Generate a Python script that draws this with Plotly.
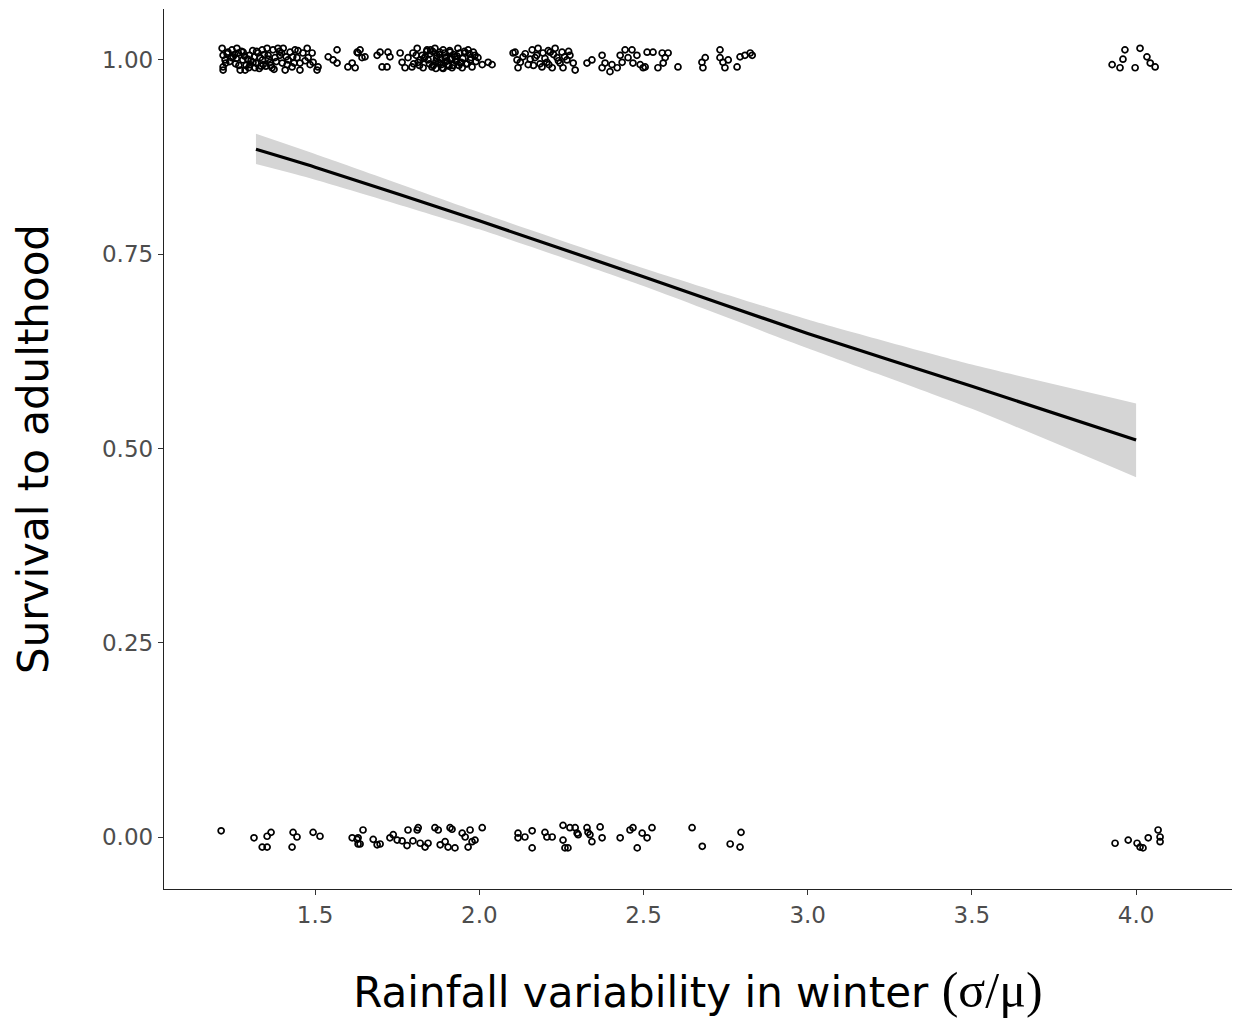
import plotly.graph_objects as go

# ---- jittered observations: survived (y ~ 1) ----
surv_x = [1.217, 1.220, 1.226, 1.220, 1.220, 1.235, 1.247, 1.250, 1.262, 1.266, 1.281, 1.272, 1.287,
          1.302, 1.311, 1.317, 1.326, 1.333, 1.339, 1.342, 1.354, 1.357, 1.363, 1.369, 1.372, 1.378,
          1.387, 1.393, 1.400, 1.403, 1.409, 1.418, 1.424, 1.430, 1.439, 1.445, 1.454, 1.454, 1.463,
          1.476, 1.479, 1.485, 1.491, 1.494, 1.506, 1.509, 1.540, 1.555, 1.567, 1.567, 1.600, 1.613,
          1.622, 1.628,
          1.280, 1.300, 1.320, 1.290, 1.310, 1.260, 1.340, 1.350, 1.240, 1.255, 1.295, 1.330,
          1.228, 1.245, 1.268, 1.285, 1.305, 1.322, 1.345, 1.365, 1.382, 1.398, 1.415, 1.432, 1.448,
          1.232, 1.258, 1.276, 1.298, 1.315, 1.336, 1.358, 1.375, 1.392, 1.412, 1.436, 1.470,
          1.637, 1.643, 1.631, 1.652, 1.689, 1.698, 1.704, 1.719, 1.722, 1.728, 1.759, 1.765, 1.774,
          1.783, 1.795, 1.798, 1.811, 1.814, 1.826, 1.829, 1.841, 1.844, 1.856, 1.865, 1.871, 1.875,
          1.887, 1.890, 1.896, 1.905, 1.911, 1.917, 1.926, 1.935, 1.942, 1.948, 1.957, 1.966, 1.972,
          1.978, 1.987, 1.996, 2.009, 2.027, 2.039, 2.103,
          1.820, 1.850, 1.880, 1.900, 1.930, 1.860, 1.910, 1.950, 1.840, 1.890, 1.970, 1.800, 1.870,
          1.920, 1.940, 1.990, 1.835, 1.915, 1.960, 1.880,
          1.808, 1.818, 1.832, 1.848, 1.858, 1.868, 1.878, 1.885, 1.895, 1.902, 1.908, 1.922, 1.928,
          1.938, 1.945, 1.955, 1.963, 1.975, 1.982, 1.852, 1.898, 1.932, 1.868, 1.912,
          2.109, 2.115, 2.118, 2.133, 2.149, 2.161, 2.170, 2.179, 2.191, 2.194, 2.206, 2.216, 2.222,
          2.231, 2.237, 2.246, 2.252, 2.255, 2.267, 2.276, 2.286, 2.292, 2.328, 2.343, 2.374, 2.374,
          2.383, 2.398, 2.404, 2.420, 2.429, 2.435, 2.444, 2.453, 2.465, 2.468, 2.480, 2.490, 2.499,
          2.505, 2.511, 2.529, 2.544, 2.557, 2.566, 2.560, 2.575, 2.605,
          2.125, 2.140, 2.155, 2.175, 2.185, 2.200, 2.212, 2.226, 2.241, 2.260, 2.272, 2.165, 2.210,
          2.678, 2.681, 2.688, 2.733, 2.733, 2.742, 2.748, 2.758, 2.785, 2.794, 2.809, 2.825, 2.831,
          3.927, 3.951, 3.960, 3.966, 3.997, 4.012, 4.033, 4.043, 4.058]
surv_y = [1.015, 1.006, 1.000, 0.991, 0.987, 1.010, 1.013, 1.004, 1.015, 1.009, 1.010, 0.987, 0.987,
          0.994, 0.997, 0.990, 1.009, 1.003, 1.013, 0.994, 1.015, 1.006, 0.997, 0.990, 1.013, 1.003,
          1.015, 1.006, 0.996, 1.015, 0.987, 1.000, 1.010, 0.991, 1.013, 1.003, 0.996, 0.987, 1.009,
          1.015, 1.003, 0.994, 1.009, 0.997, 0.987, 0.991, 1.004, 1.000, 1.013, 0.996, 0.991, 0.996,
          0.990, 1.010,
          1.000, 1.006, 0.996, 0.993, 1.012, 1.002, 1.000, 0.992, 0.998, 1.007, 1.001, 0.989,
          0.996, 1.003, 0.993, 1.005, 0.999, 1.011, 1.007, 0.993, 0.998, 1.009, 0.994, 1.004, 1.012,
          1.008, 0.995, 1.011, 0.990, 1.004, 0.992, 1.001, 0.988, 1.011, 1.004, 0.996, 0.999,
          1.013, 1.003, 1.009, 1.004, 1.006, 1.010, 0.991, 0.991, 1.010, 1.004, 1.009, 0.997, 0.990,
          1.003, 0.991, 1.009, 1.015, 0.997, 1.006, 0.990, 1.013, 1.000, 0.991, 1.015, 1.006, 0.997,
          0.990, 1.013, 1.003, 0.994, 1.010, 0.990, 1.004, 1.015, 0.996, 0.990, 1.009, 1.013, 1.000,
          0.991, 1.006, 1.003, 0.994, 0.997, 0.994, 1.009,
          1.000, 1.008, 0.996, 1.004, 0.998, 0.993, 1.012, 1.002, 1.011, 0.989, 1.008, 0.995, 1.002,
          0.993, 1.009, 0.998, 1.004, 1.001, 0.995, 1.010,
          1.006, 0.993, 1.002, 0.995, 1.011, 0.998, 1.007, 0.994, 1.009, 0.999, 0.992, 1.007, 1.001,
          0.993, 0.997, 1.011, 0.995, 1.003, 1.010, 1.013, 0.998, 1.005, 0.989, 1.002,
          1.010, 1.000, 0.990, 1.004, 0.994, 1.013, 1.003, 1.015, 0.991, 1.009, 0.997, 1.010, 0.990,
          1.015, 1.003, 0.996, 1.010, 0.990, 1.000, 1.006, 0.996, 0.987, 0.996, 1.000, 1.006, 0.990,
          0.996, 0.985, 0.994, 0.990, 1.006, 0.997, 1.013, 1.003, 1.013, 0.996, 1.006, 0.994, 0.990,
          0.991, 1.010, 1.010, 0.990, 1.009, 1.003, 0.996, 1.009, 0.991,
          0.997, 1.008, 1.001, 1.006, 0.995, 1.002, 0.994, 1.007, 0.999, 1.004, 1.011, 0.993, 1.012,
          0.997, 0.990, 1.003, 1.013, 1.003, 0.997, 0.990, 1.000, 0.991, 1.004, 1.006, 1.009, 1.006,
          0.994, 0.990, 1.001, 1.013, 0.990, 1.015, 1.004, 0.996, 0.991]

# ---- jittered observations: died (y ~ 0) ----
dead_x = [1.214, 1.314, 1.354, 1.366, 1.339, 1.354, 1.433, 1.445, 1.430, 1.494, 1.515, 1.613, 1.628, 1.631,
          1.646, 1.631, 1.637, 1.677, 1.689, 1.698, 1.728, 1.738, 1.750, 1.765, 1.780, 1.783, 1.798,
          1.811, 1.814, 1.820, 1.835, 1.844, 1.865, 1.875, 1.881, 1.896, 1.905, 1.911, 1.917, 1.926,
          1.948, 1.957, 1.966, 1.972, 1.978, 1.987, 2.009,
          2.118, 2.118, 2.139, 2.161, 2.161, 2.200, 2.206, 2.222, 2.255, 2.255, 2.261, 2.270, 2.276,
          2.292, 2.298, 2.301, 2.328, 2.331, 2.337, 2.343, 2.368, 2.374, 2.429, 2.459, 2.468, 2.481,
          2.496, 2.511, 2.526,
          2.648, 2.679, 2.764, 2.797, 2.794,
          3.936, 3.976, 4.003, 4.012, 4.021, 4.037, 4.067, 4.073, 4.073]
dead_y = [0.008, -0.001, 0.001, 0.006, -0.013, -0.013, 0.006, 0.000, -0.013, 0.006, 0.001, -0.001, -0.003, -0.009,
          0.009, -0.001, -0.009, -0.003, -0.010, -0.009, -0.001, 0.003, -0.004, -0.005, -0.011, 0.009, -0.005,
          0.009, 0.012, -0.008, -0.013, -0.008, 0.012, 0.009, -0.010, -0.006, -0.013, 0.012, 0.010, -0.014,
          0.005, 0.000, -0.013, 0.009, -0.006, -0.004, 0.012,
          0.005, -0.001, 0.000, 0.008, -0.014, 0.006, 0.000, 0.000, 0.015, -0.004, -0.014, -0.014, 0.012,
          0.012, 0.005, 0.003, 0.012, 0.006, 0.003, -0.006, 0.013, -0.001, -0.001, 0.009, 0.012, -0.014,
          0.005, -0.001, 0.012,
          0.012, -0.012, -0.009, 0.006, -0.013,
          -0.008, -0.004, -0.008, -0.013, -0.014, -0.001, 0.009, 0.000, -0.006]

# ---- fitted logistic curve with confidence band ----
fit_x = [1.32, 1.5, 2.0, 2.5, 3.0, 3.5, 4.0]
fit_y = [0.885, 0.862, 0.793, 0.721, 0.648, 0.580, 0.511]
fit_lo = [0.866, 0.846, 0.782, 0.709, 0.629, 0.551, 0.463]
fit_hi = [0.905, 0.879, 0.804, 0.732, 0.666, 0.608, 0.558]

x_ticks = [1.5, 2.0, 2.5, 3.0, 3.5, 4.0]
y_ticks = [0.0, 0.25, 0.5, 0.75, 1.0]

FONT = "DejaVu Sans"
fig = go.Figure()

smooth = dict(shape="spline", smoothing=0.6)
fig.add_trace(go.Scatter(x=fit_x, y=fit_lo, mode="lines", line=dict(width=0, **smooth),
                         hoverinfo="skip", showlegend=False))
fig.add_trace(go.Scatter(x=fit_x, y=fit_hi, mode="lines", line=dict(width=0, **smooth),
                         fill="tonexty", fillcolor="#D5D5D5", hoverinfo="skip", showlegend=False))

marker = dict(symbol="circle-open", size=6, color="black", line=dict(width=1.7, color="black"))
fig.add_trace(go.Scatter(x=surv_x, y=surv_y, mode="markers", marker=marker, showlegend=False))
fig.add_trace(go.Scatter(x=dead_x, y=dead_y, mode="markers", marker=marker, showlegend=False))

fig.add_trace(go.Scatter(x=fit_x, y=fit_y, mode="lines",
                         line=dict(color="black", width=3.2, **smooth), showlegend=False))

axis_common = dict(showgrid=False, zeroline=False, showline=True, linecolor="#222222", linewidth=1.4,
                   ticks="outside", ticklen=5, tickwidth=1.3, tickcolor="#333333",
                   tickfont=dict(family=FONT, size=23, color="#4D4D4D"), mirror=False)

fig.update_layout(
    width=1252, height=1024,
    margin=dict(l=164, r=20, t=9, b=135),
    plot_bgcolor="white", paper_bgcolor="white",
    xaxis=dict(range=[1.040, 4.292], tickvals=x_ticks, ticktext=["1.5", "2.0", "2.5", "3.0", "3.5", "4.0"],
               title=dict(text='Rainfall variability in winter <span style="font-family:\'Liberation Serif\', serif;font-size:50px">(σ/μ)</span>',
                          font=dict(family=FONT, size=42, color="black"), standoff=50),
               **axis_common),
    yaxis=dict(range=[-0.0669, 1.0656], tickvals=y_ticks, ticktext=["0.00", "0.25", "0.50", "0.75", "1.00"],
               title=dict(text="Survival to adulthood", font=dict(family=FONT, size=42, color="black"),
                          standoff=40),
               **axis_common),
)

fig.write_html("out.html")
